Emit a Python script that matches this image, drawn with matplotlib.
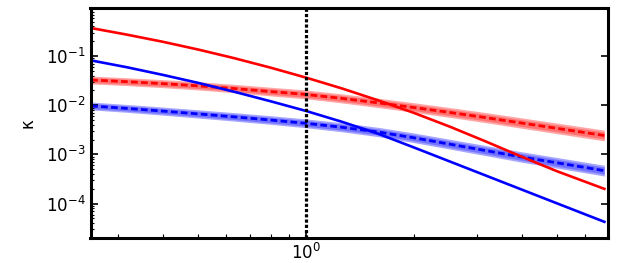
import numpy as np
import matplotlib
matplotlib.use("Agg")
import matplotlib.pyplot as plt

# x positions (data)
x = [0.252, 0.316, 0.398, 0.501, 0.631, 0.794, 1.0, 1.259, 1.585, 1.995,
     2.512, 3.162, 3.981, 5.012, 6.79]
# log10 of kappa values
red_solid_log = [-0.43, -0.562, -0.707, -0.867, -1.042, -1.232, -1.437, -1.657,
                 -1.897, -2.152, -2.432, -2.732, -3.042, -3.342, -3.70]
blue_solid_log = [-1.088, -1.225, -1.380, -1.545, -1.725, -1.915, -2.115, -2.335,
                  -2.575, -2.855, -3.14, -3.425, -3.71, -3.995, -4.37]
red_dash_log = [-1.486, -1.52, -1.56, -1.605, -1.66, -1.72, -1.78, -1.86,
                -1.95, -2.045, -2.145, -2.25, -2.36, -2.47, -2.615]
blue_dash_log = [-2.014, -2.063, -2.118, -2.176, -2.236, -2.299, -2.367, -2.447,
                 -2.542, -2.66, -2.79, -2.92, -3.05, -3.17, -3.33]
band_halfwidth_log = [0.08, 0.08, 0.082, 0.084, 0.086, 0.088, 0.09, 0.092,
                      0.095, 0.098, 0.10, 0.103, 0.106, 0.108, 0.11]

x = np.array(x)
hw = np.array(band_halfwidth_log)

fig = plt.figure(figsize=(6.4, 2.63), dpi=100)
ax = fig.add_axes([90.5/640, 1 - 238/263, (608-90.5)/640, (238-8)/263])

for mid, col in [(red_dash_log, 'red'), (blue_dash_log, 'blue')]:
    mid = np.array(mid)
    ax.fill_between(x, 10 ** (mid - hw), 10 ** (mid + hw), color=col, alpha=0.35, lw=0)
    ax.fill_between(x, 10 ** (mid - 0.65 * hw), 10 ** (mid + 0.65 * hw), color=col, alpha=0.3, lw=0)
    ax.plot(x, 10 ** mid, color=col, lw=2.0, ls=(0, (2.4, 1.2)))

for vals, col in [(red_solid_log, 'red'), (blue_solid_log, 'blue')]:
    ax.plot(x, 10 ** np.array(vals), color=col, lw=1.9)

ax.axvline(1.0, color='black', ls=(0, (1, 0.65)), lw=2.3)

ax.set_xscale('log')
ax.set_yscale('log')
ax.set_xlim(0.251, 6.95)
ax.set_ylim(2.0e-5, 0.95)
ax.set_ylabel('κ', fontsize=12, labelpad=7)

for s in ax.spines.values():
    s.set_linewidth(2.2)
ax.tick_params(axis='both', which='both', direction='in', labelsize=12)
ax.tick_params(axis='y', which='major', left=True, right=True, length=5, width=1.2)
ax.tick_params(axis='y', which='minor', left=True, right=False, length=2.5, width=0.8)
ax.tick_params(axis='x', which='major', bottom=True, top=False, length=5, width=1.2)
ax.tick_params(axis='x', which='minor', bottom=True, top=False, length=3, width=0.8)
ax.xaxis.set_minor_formatter(matplotlib.ticker.NullFormatter())

fig.savefig('out.png', dpi=100)
